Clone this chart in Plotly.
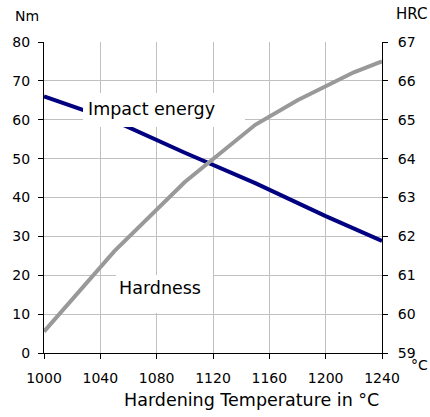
import plotly.graph_objects as go

# ---- data ----
temp_ie = [1000, 1050, 1100, 1150, 1200, 1240]
impact_energy = [66.0, 59.7, 51.5, 43.7, 35.2, 28.8]
temp_hrc = [1000, 1050, 1100, 1150, 1180, 1220, 1240]
hardness = [59.55, 61.62, 63.4, 64.87, 65.5, 66.22, 66.5]
x_ticks = [1000, 1040, 1080, 1120, 1160, 1200, 1240]
nm_ticks = [0, 10, 20, 30, 40, 50, 60, 70, 80]
hrc_ticks = [59, 60, 61, 62, 63, 64, 65, 66, 67]

W, H = 430, 417
L, R, T, B = 44, 48, 42, 64
PW, PH = W - L - R, H - T - B
FONT = "DejaVu Sans"


def px(x):
    return (x - L) / PW


def py(y):
    return (H - B - y) / PH


fig = go.Figure()
fig.add_trace(go.Scatter(x=temp_ie, y=impact_energy, mode="lines",
                         line=dict(color="#000080", width=4),
                         name="Impact energy", yaxis="y"))
fig.add_trace(go.Scatter(x=temp_hrc, y=hardness, mode="lines",
                         line=dict(color="#999999", width=4),
                         name="Hardness", yaxis="y2"))

axis_common = dict(showline=True, linecolor="#000000", linewidth=1,
                   ticks="outside", ticklen=5, tickcolor="#000000",
                   tickfont=dict(family=FONT, size=14, color="#000000"),
                   zeroline=False)

fig.update_layout(
    width=W, height=H,
    margin=dict(l=L, r=R, t=T, b=B, pad=0),
    paper_bgcolor="white", plot_bgcolor="white",
    showlegend=False,
    font=dict(family=FONT, size=14, color="#000000"),
    xaxis=dict(range=[1000, 1240], tickmode="array", tickvals=x_ticks,
               showgrid=True, gridcolor="#c0c0c0", gridwidth=1,
               ticklabelstandoff=7, **axis_common),
    yaxis=dict(range=[0, 80], tickmode="array", tickvals=nm_ticks,
               showgrid=True, gridcolor="#c0c0c0", gridwidth=1,
               ticklabelstandoff=5, **axis_common),
    yaxis2=dict(range=[59, 67], tickmode="array", tickvals=hrc_ticks,
                overlaying="y", side="right", showgrid=False,
                ticklabelstandoff=7, **axis_common),
    # inner half of the crossing tick marks on the right axis
    yaxis3=dict(range=[59, 67], tickmode="array", tickvals=hrc_ticks,
                overlaying="y", side="right", showgrid=False,
                showline=False, zeroline=False, showticklabels=False,
                ticks="inside", ticklen=5, tickcolor="#000000"),
)

# white label boxes
fig.add_shape(type="rect", xref="paper", yref="paper",
              x0=px(83), x1=px(245), y0=py(127), y1=py(93),
              fillcolor="white", line=dict(width=0), layer="above")
fig.add_shape(type="rect", xref="paper", yref="paper",
              x0=px(116), x1=px(213), y0=py(313), y1=py(275),
              fillcolor="white", line=dict(width=0), layer="above")


def note(text, x, y, size, xanchor="center"):
    fig.add_annotation(text=text, xref="paper", yref="paper",
                       x=px(x), y=py(y), xanchor=xanchor, yanchor="middle",
                       showarrow=False,
                       font=dict(family=FONT, size=size, color="#000000"))


note("Impact energy", 151, 109, 17.5)
note("Hardness", 160, 288, 17.5)
note("Hardening Temperature in °C", 251, 400, 17.5)
note("Nm", 27, 16, 14)
note("HRC", 411, 14, 15)
note("°C", 430, 365, 14, xanchor="right")

fig.write_html("out.html")
